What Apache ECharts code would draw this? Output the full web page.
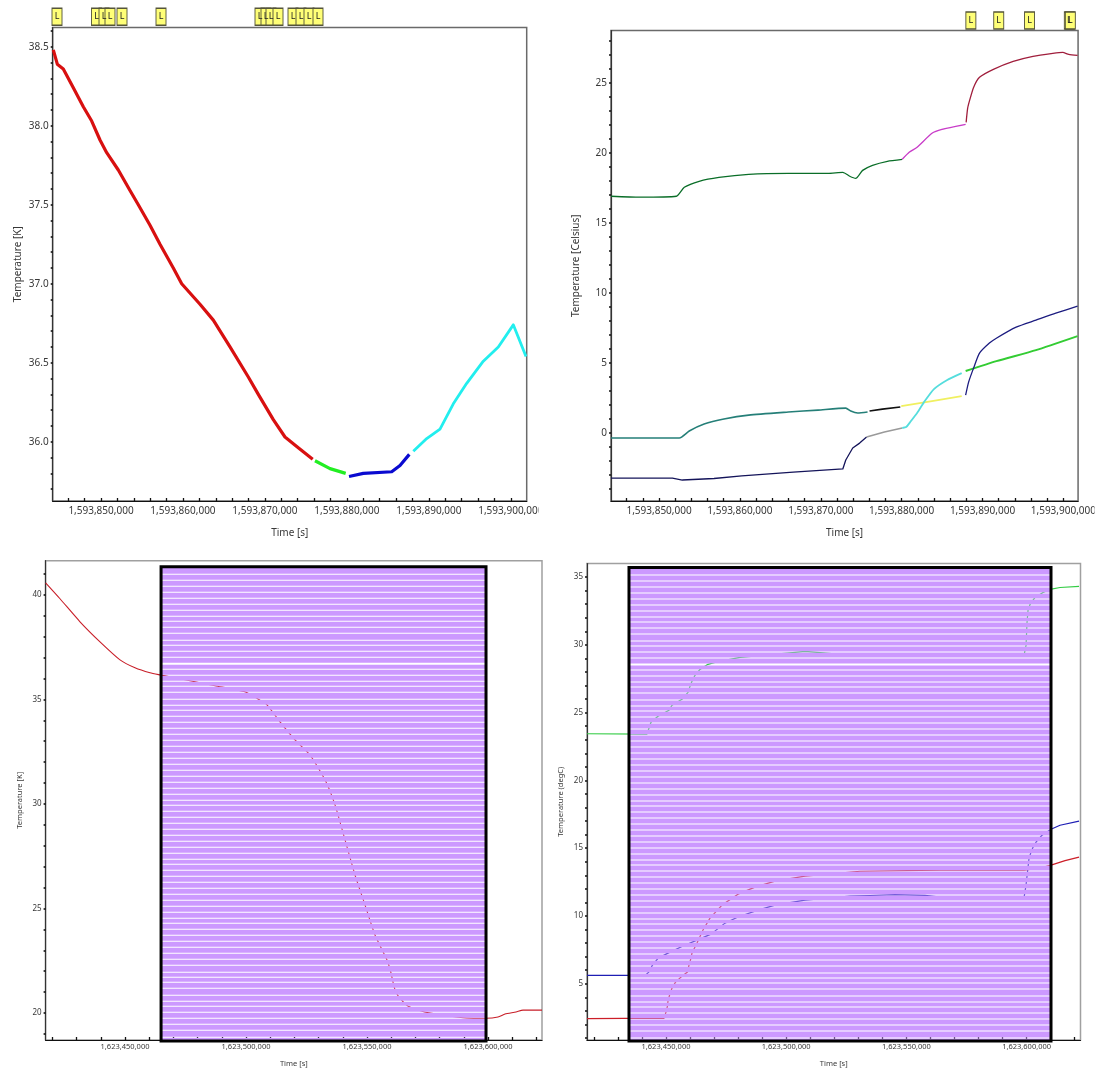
<!DOCTYPE html>
<html><head><meta charset="utf-8">
<style>html,body{margin:0;padding:0;background:#fff}#c{width:1099px;height:1069px}</style>
<script src="https://cdn.jsdelivr.net/npm/echarts@6/dist/echarts.min.js"></script>
</head><body><div id="c"></div>
<script>
// Panel 1 : [time s, temperature K]
const p1Red=[[1593844181,38.48],[1593844669,38.39],[1593845401,38.36],[1593846621,38.24],[1593847841,38.12],[1593848865,38.03],[1593849878,37.91],[1593850695,37.83],[1593852111,37.72],[1593853538,37.59],[1593854551,37.50],[1593855978,37.37],[1593857198,37.25],[1593858821,37.10],[1593859845,37.00],[1593862078,36.87],[1593863701,36.77],[1593865738,36.60],[1593867971,36.41],[1593869191,36.30],[1593871021,36.14],[1593872448,36.03],[1593873875,35.97],[1593875827,35.89]];
const p1Green=[[1593876108,35.88],[1593877938,35.83],[1593879853,35.80]];
const p1Blue=[[1593880256,35.78],[1593882001,35.80],[1593885465,35.81],[1593886478,35.85],[1593887613,35.92]];
const p1Cyan=[[1593888101,35.94],[1593889735,36.02],[1593891358,36.08],[1593892981,36.24],[1593894615,36.37],[1593896641,36.51],[1593898471,36.60],[1593900301,36.74],[1593901850,36.54]];
const p1Marks=[1593844632,1593849451,1593850366,1593851098,1593852562,1593857320,1593869398,1593870130,1593870740,1593871594,1593873424,1593874400,1593875376,1593876474];
// Panel 2 : [time s, temperature Celsius]
const p2aGreen=[[1593844059,16.91],[1593847611,16.84],[1593852144,16.91],[1593853124,17.55],[1593854961,17.98],[1593857411,18.26],[1593861086,18.48],[1593865986,18.55],[1593870886,18.55],[1593872724,18.62],[1593873581,18.34],[1593874316,18.19],[1593875174,18.76],[1593876399,19.12],[1593878236,19.41],[1593880074,19.55]];
const p2aMagenta=[[1593880074,19.55],[1593880931,20.05],[1593881911,20.41],[1593883749,21.41],[1593884974,21.69],[1593887914,22.05]];
const p2aRed=[[1593887975,22.19],[1593888159,23.19],[1593888404,23.76],[1593888894,24.69],[1593889629,25.41],[1593891344,25.98],[1593893794,26.55],[1593896244,26.91],[1593898694,27.12],[1593899919,27.19],[1593900654,27.05],[1593901756,26.98]];
const p2bTeal=[[1593844059,-0.38],[1593852511,-0.38],[1593853736,0.12],[1593855574,0.62],[1593858024,0.98],[1593861086,1.26],[1593865986,1.48],[1593869661,1.62],[1593873091,1.76],[1593873704,1.55],[1593874561,1.41],[1593875786,1.48]];
const p2bBlack=[[1593876031,1.55],[1593877624,1.69],[1593879829,1.84]];
const p2bYellow=[[1593879951,1.91],[1593883749,2.26],[1593887424,2.62]];
const p2bGreen=[[1593887914,4.41],[1593891711,5.12],[1593896611,5.91],[1593901756,6.91]];
const p2cNavy=[[1593844059,-3.24],[1593851654,-3.24],[1593852879,-3.38],[1593856799,-3.27],[1593860229,-3.09],[1593866599,-2.81],[1593872724,-2.59],[1593873091,-1.95],[1593873949,-1.09],[1593874806,-0.74],[1593875664,-0.31]];
const p2cGray=[[1593875664,-0.31],[1593877869,0.05],[1593880074,0.34]];
const p2cCyan=[[1593880074,0.34],[1593880564,0.41],[1593881054,0.76],[1593881911,1.41],[1593882769,2.19],[1593883994,3.12],[1593885586,3.76],[1593887424,4.26]];
const p2cNavy2=[[1593887914,2.69],[1593888281,3.62],[1593888894,4.62],[1593889629,5.69],[1593890854,6.41],[1593891711,6.76],[1593894161,7.55],[1593896611,8.05],[1593899061,8.55],[1593901756,9.05]];
const p2Marks=[1593888560,1593892005,1593895815,1593900737,1593900860];
// Panel 3 : [time s, temperature K]
const p3Red=[[1623417192,40.57],[1623423142,39.81],[1623431406,38.71],[1623439670,37.75],[1623447934,36.89],[1623454132,36.51],[1623460330,36.27],[1623464462,36.17],[1623476858,35.89],[1623487188,35.65],[1623499584,35.36],[1623504956,35.02],[1623508674,34.74],[1623514046,33.92],[1623520244,33.06],[1623526442,32.34],[1623532640,31.15],[1623536772,29.95],[1623540904,28.28],[1623545036,26.60],[1623549168,25.17],[1623553300,23.73],[1623558258,22.54],[1623559705,22.01],[1623561316,21.20],[1623562597,20.86],[1623564663,20.57],[1623566936,20.33],[1623573795,20.05],[1623591190,19.76],[1623599165,19.75],[1623604124,19.81],[1623607016,19.95],[1623611561,20.05],[1623614454,20.14],[1623622304,20.14]];
// Panel 4 : [time s, temperature degC]
const p4Green=[[1623417136,23.44],[1623442096,23.42],[1623443760,24.29],[1623446672,24.73],[1623451248,25.17],[1623452496,25.54],[1623456656,25.98],[1623459152,26.50],[1623459984,26.94],[1623460816,27.31],[1623462064,27.75],[1623464144,28.19],[1623467472,28.56],[1623470384,28.71],[1623480784,29.08],[1623501584,29.41],[1623507824,29.52],[1623515312,29.41],[1623522384,29.30],[1623547344,29.22],[1623598928,29.22],[1623599760,29.96],[1623599968,30.77],[1623600176,31.65],[1623600592,32.54],[1623601424,32.98],[1623603504,33.50],[1623606832,33.86],[1623609744,34.09],[1623613904,34.23],[1623621808,34.31]];
const p4Blue=[[1623417136,5.62],[1623434192,5.62],[1623441264,5.60],[1623442928,5.88],[1623444384,6.38],[1623446672,6.87],[1623450624,7.24],[1623457072,7.78],[1623462896,8.22],[1623468720,8.66],[1623474544,9.47],[1623479952,9.92],[1623488272,10.43],[1623495344,10.80],[1623507824,11.17],[1623526544,11.46],[1623534864,11.51],[1623545264,11.57],[1623557744,11.52],[1623566000,11.35],[1623598928,11.35],[1623599760,12.27],[1623601008,14.26],[1623601840,14.71],[1623602672,15.07],[1623603920,15.44],[1623606416,15.96],[1623610160,16.40],[1623613904,16.69],[1623621808,16.99]];
const p4Red=[[1623417136,2.42],[1623432944,2.45],[1623449168,2.45],[1623450000,2.91],[1623450624,3.36],[1623450832,3.73],[1623451498,4.17],[1623452496,4.68],[1623453994,5.13],[1623456240,5.49],[1623458944,5.86],[1623459568,6.38],[1623460275,6.82],[1623460816,7.26],[1623462896,8.00],[1623465392,8.96],[1623468304,9.84],[1623473296,10.80],[1623479952,11.61],[1623487024,12.13],[1623495344,12.57],[1623507824,12.94],[1623530704,13.30],[1623563984,13.38],[1623598928,13.38],[1623605584,13.53],[1623610160,13.75],[1623615984,14.08],[1623621808,14.34]];
// Shaded blocks : [time from, time to, temp low, temp high]
const p3Block=[1623464900,1623599170,18.66,41.34];
const p4Block=[1623434609,1623610150,0.78,35.71];
// Tick labels
const xLabelsTop=[1593850000,1593860000,1593870000,1593880000,1593890000,1593900000];
const xLabelsBottom=[1623450000,1623500000,1623550000,1623600000];
const y1Labels=[36,36.5,37,37.5,38,38.5];
const y2Labels=[0,5,10,15,20,25];
const y3Labels=[20,25,30,35,40];
const y4Labels=[5,10,15,20,25,30,35];
// Axis titles
const titles={x:'Time [s]',y1:'Temperature [K]',y2:'Temperature [Celsius]',y3:'Temperature [K]',y4:'Temperature (degC)'};

const FONT='"Noto Sans","Liberation Sans",sans-serif', TXT='#383838';
const seq=(a,b,s)=>{const r=[];for(let v=a;v<=b+1e-9;v+=s)r.push(+v.toFixed(3));return r;};
const grids=[
 {left:52.7,width:474,top:27.5,height:473.5,borderColor:'#6a6a6a',borderWidth:1.5,show:true},
 {left:611,width:471.5,top:30.5,height:470.5,borderColor:'#6a6a6a',borderWidth:1.5,show:true},
 {left:45.6,width:496.4,top:560.7,height:479.3,borderColor:'#a0a0a0',borderWidth:1.5,show:true},
 {left:587,width:493.5,top:563.5,height:476.5,borderColor:'#a0a0a0',borderWidth:1.5,show:true}];
function xAxis(i,min,max,labels,ticks,fs,gap,nameFs,lm){return {type:'value',gridIndex:i,min,max,z:1,name:titles.x,nameLocation:'middle',nameGap:gap,
 nameTextStyle:{fontFamily:FONT,fontSize:nameFs,color:TXT},splitLine:{show:false},
 axisLine:{onZero:false,lineStyle:{color:'#111',width:1.2}},axisTick:{inside:true,length:3,customValues:ticks,lineStyle:{color:'#111',width:1.3}},
 axisLabel:{customValues:labels,margin:lm,fontFamily:FONT,fontSize:fs,color:TXT,hideOverlap:false,formatter:v=>Math.round(v).toLocaleString('en-US')}};}
function yAxis(i,min,max,labels,ticks,fs,name,gap,nameFs,dec){return {type:'value',gridIndex:i,min,max,z:1,name,nameLocation:'middle',nameGap:gap,
 nameTextStyle:{fontFamily:FONT,fontSize:nameFs,color:TXT},splitLine:{show:false},
 axisLine:{onZero:false,lineStyle:{color:'#333',width:1.2}},axisTick:{length:2,customValues:ticks,lineStyle:{color:'#111',width:1.6}},
 axisLabel:{customValues:labels,margin:4,fontFamily:FONT,fontSize:fs,color:TXT,hideOverlap:false,formatter:v=>v.toFixed(dec)}};}
const xAxes=[
 xAxis(0,1593844107,1593901935,xLabelsTop,seq(1593846000,1593900000,2000),10,27,10,5),
 xAxis(1,1593844059,1593901818,xLabelsTop,seq(1593846000,1593900000,2000),10,27,10,5),
 xAxis(2,1623417190,1623622300,xLabelsBottom,seq(1623420000,1623620000,10000),7.5,20,7.5,3),
 xAxis(3,1623417140,1623622420,xLabelsBottom,seq(1623420000,1623620000,10000),7.5,20,7.5,3)];
const yAxes=[
 yAxis(0,35.625,38.622,y1Labels,seq(35.7,38.6,0.1),10,titles.y1,30,10,1),
 yAxis(1,-4.88,28.76,y2Labels,seq(-4,28,1),10,titles.y2,30,10,0),
 yAxis(2,18.71,41.63,y3Labels,seq(19,41,1),8,titles.y3,22,7.5,0),
 yAxis(3,0.85,36,y4Labels,seq(1,35,1),8,titles.y4,22,7.5,0)];
const line=(i,data,color,w,sm)=>({type:'line',xAxisIndex:i,yAxisIndex:i,data,showSymbol:false,silent:true,z:2,lineStyle:{color,width:w,join:'round'},itemStyle:{color},smooth:sm||false});
const marks=(i,times,level)=>({type:'scatter',xAxisIndex:i,yAxisIndex:i,clip:false,silent:true,z:3,symbol:'rect',symbolSize:[10,17],
 data:times.map(t=>[t,level]),itemStyle:{color:'#ffff77',borderColor:'#55553a',borderWidth:1.2,opacity:1},
 label:{show:true,position:'inside',formatter:'L',fontFamily:FONT,fontSize:9,color:'#222'}});
function stripes(params,api){
 const a=api.coord([api.value(0),api.value(3)]), b=api.coord([api.value(1),api.value(2)]);
 const steps=[6,6,6,6,6,6,6,5,6,6,7,5,6,6,6,6,6,6,5,6,7,6,5,6,6,6,6,6,6,6,6,
  6,6,6,6,6,6,6,5,6,6,6,6,6,6,6,6,6,5,6,6,6,6,6,6,6,6,6,5,6,6,6,6,6,
  6,6,7,5,5,6,7,6,5,6,6,6,6,7];
 const children=[], x=a[0], w=b[0]-a[0], top=a[1], bot=b[1];
 let yy=top, row=top+7;
 for(let k=0;k<=steps.length;k++){
  const gap=k===15?2:1.1;
  children.push({type:'rect',shape:{x,y:yy,width:w,height:row-yy},style:{fill:'#cc99ff'}});
  yy=row+gap; row+=steps[k]||1000;
 }
 children.push({type:'rect',shape:{x,y:yy,width:w,height:bot-yy},style:{fill:'#cc99ff'}});
 children.push({type:'rect',shape:{x,y:top,width:w,height:bot-top},style:{fill:'none',stroke:'#000',lineWidth:3}});
 return {type:'group',children};
}
const block=(i,d)=>({type:'custom',xAxisIndex:i,yAxisIndex:i,clip:false,silent:true,z:50,data:[d],renderItem:stripes,encode:{x:[0,1],y:[2,3]}});
const S=0.2;
const series=[
 line(0,p1Red,'#d81010',3.2),line(0,p1Green,'#22ee22',3.2),line(0,p1Blue,'#0a0ad0',3.2),line(0,p1Cyan,'#22eeee',2.8),marks(0,p1Marks,38.69),
 line(1,p2aGreen,'#0a6e28',1.3,S),line(1,p2aMagenta,'#c83cc8',1.3,S),line(1,p2aRed,'#a01e3c',1.3,S),
 line(1,p2bTeal,'#257f78',1.6,S),line(1,p2bBlack,'#111111',1.6),line(1,p2bYellow,'#f0f060',1.8),line(1,p2bGreen,'#33cc33',2,S),
 line(1,p2cNavy,'#14145a',1.3),line(1,p2cGray,'#9a9a9a',1.6),line(1,p2cCyan,'#55dddd',1.8,S),line(1,p2cNavy2,'#1c1c80',1.3,S),marks(1,p2Marks,29.48),
 line(2,p3Red,'#c81e28',1.1,S),block(2,p3Block),
 line(3,p4Green,'#33cc44',1.2),line(3,p4Blue,'#1e1eb4',1.2),line(3,p4Red,'#cc1e28',1.2),block(3,p4Block)];
const chart=echarts.init(document.getElementById('c'),null,{renderer:'canvas'});
chart.setOption({animation:false,backgroundColor:'#fff',grid:grids,xAxis:xAxes,yAxis:yAxes,series,
 graphic:[
  {type:'rect',z:100,silent:true,shape:{x:0,y:538.5,width:1099,height:14},style:{fill:'#fff'}},
  {type:'rect',z:100,silent:true,shape:{x:538.5,y:503,width:14,height:36},style:{fill:'#fff'}},
  {type:'rect',z:100,silent:true,shape:{x:1094.5,y:503,width:5,height:36},style:{fill:'#fff'}}]});
</script></body></html>
